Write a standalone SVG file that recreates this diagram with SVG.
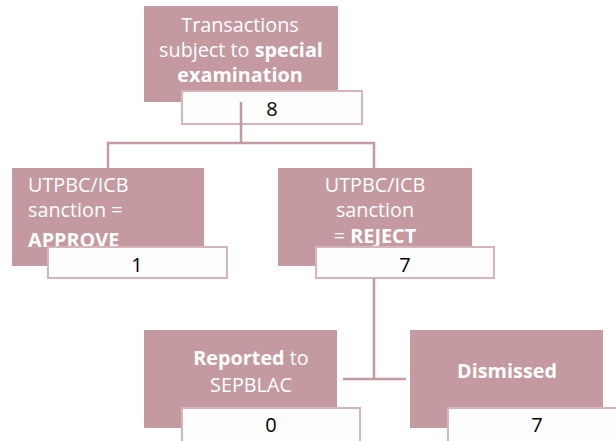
<svg xmlns="http://www.w3.org/2000/svg" width="616" height="441" viewBox="0 0 616 441">
<style>
.box{fill:#c49aa0}
.num{fill:#fdfdfd;stroke:#d6b5ba;stroke-width:2}
.t{font-family:"Open Sans","Noto Sans",sans-serif;font-size:19.8px;fill:#ffffff}
.c{text-anchor:middle}
.b{font-weight:bold}
.n{font-family:"Open Sans","Noto Sans",sans-serif;font-size:20px;fill:#000000;text-anchor:middle}
.conn{stroke:#c49aa0;stroke-width:2.5;fill:none}
</style>
<rect width="616" height="441" fill="#ffffff"/>
<g id="top">
<rect class="box" x="144" y="6" width="194" height="96"/>
<text class="t c" x="240" y="32">Transactions</text>
<text class="t c" x="241" y="57">subject to <tspan class="b">special</tspan></text>
<text class="t c b" x="240" y="82">examination</text>
<rect class="num" x="182" y="91" width="180" height="33"/>
<text class="n" x="272" y="116">8</text>
</g>
<g id="approve">
<rect class="box" x="12" y="168" width="192" height="98"/>
<text class="t" x="28" y="192">UTPBC/ICB</text>
<text class="t" x="28" y="217">sanction =</text>
<text class="t b" x="28" y="247">APPROVE</text>
<rect class="num" x="48" y="247" width="179" height="31"/>
<text class="n" x="137" y="272">1</text>
</g>
<g id="reject">
<rect class="box" x="278" y="168" width="194" height="98"/>
<text class="t c" x="375" y="192">UTPBC/ICB</text>
<text class="t c" x="375" y="217">sanction</text>
<text class="t c" x="375" y="243">= <tspan class="b">REJECT</tspan></text>
<rect class="num" x="316" y="247" width="178" height="31"/>
<text class="n" x="405" y="272">7</text>
</g>
<g id="reported">
<rect class="box" x="144" y="330" width="193" height="98"/>
<text class="t c" x="251" y="365"><tspan class="b">Reported</tspan> to</text>
<text class="t c" x="251" y="392">SEPBLAC</text>
<rect class="num" x="182" y="408" width="178" height="36"/>
<text class="n" x="271" y="432">0</text>
</g>
<g id="dismissed">
<rect class="box" x="410" y="330" width="193" height="98"/>
<text class="t c b" x="507" y="378">Dismissed</text>
<rect class="num" x="448" y="408" width="178" height="36"/>
<text class="n" x="537" y="432">7</text>
</g>
<g id="connectors">
<path class="conn" d="M241 102V143M108 168V143H374V168M374 278V379M343 379H406"/>
</g>
</svg>
